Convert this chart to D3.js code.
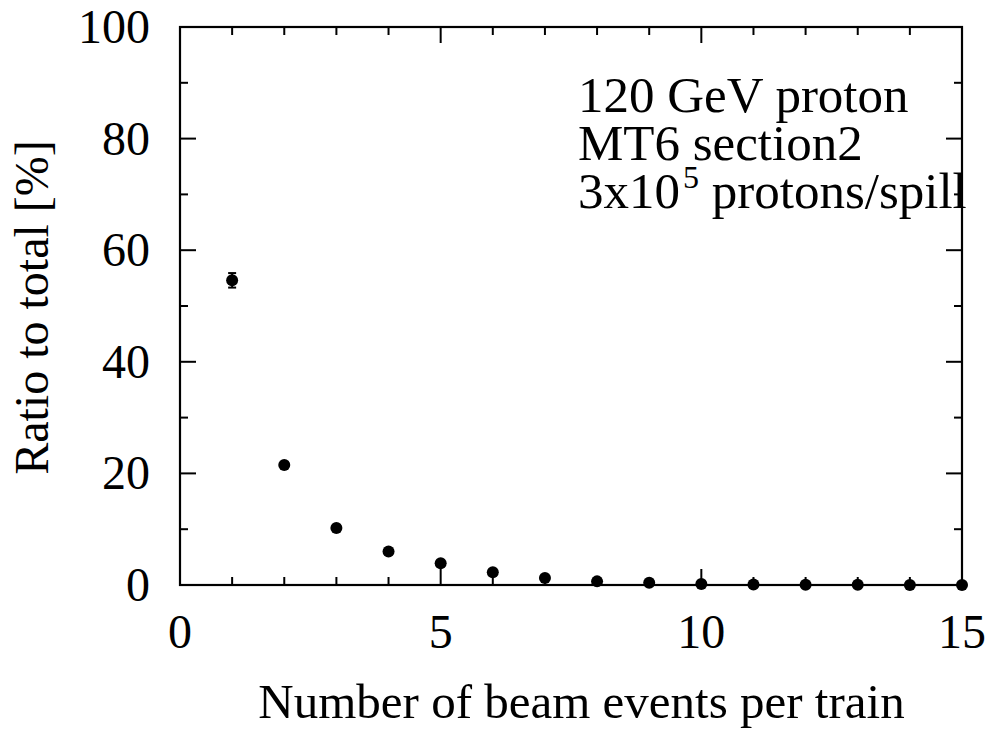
<!DOCTYPE html>
<html>
<head>
<meta charset="utf-8">
<script src="https://cdn.jsdelivr.net/npm/d3@7"></script>
<style>
  html, body { margin: 0; padding: 0; background: #fff; }
  svg { display: block; }
  text { font-family: "Times New Roman", "Liberation Serif", serif; fill: #000; }
</style>
</head>
<body>
<svg id="chart" width="991" height="746"></svg>
<script>
// Beam events per train and their share of the total
const nEvents = [1, 2, 3, 4, 5, 6, 7, 8, 9, 10, 11, 12, 13, 14, 15];
const ratio   = [54.6, 21.5, 10.2, 6.0, 3.9, 2.3, 1.25, 0.65, 0.4, 0.2, 0.1, 0.06, 0.04, 0.02, 0.01];
const ratioErr = [1.3, 0.5, 0.4, 0.3, 0.2, 0.2, 0.1, 0.1, 0.05, 0.05, 0.03, 0.02, 0.02, 0.01, 0.01];

const xTicks = [0, 5, 10, 15];
const yTicks = [0, 20, 40, 60, 80, 100];
const xTitle = "Number of beam events per train";
const yTitle = "Ratio to total [%]";
const noteLines = ["120 GeV proton", "MT6 section2"];
const spillBase = "3x10", spillExp = "5", spillTail = " protons/spill";

const svg = d3.select("#chart");
const plotL = 180, plotR = 962, plotT = 27, plotB = 585;

const x = d3.scaleLinear().domain([0, 15]).range([plotL, plotR]);
const y = d3.scaleLinear().domain([0, 100]).range([plotB, plotT]);

const g = svg.append("g");

// Inward-pointing ticks on all four sides: majors labelled, minors in between
const majorLen = 16, minorLen = 8;
const xMinor = d3.range(0, 16, 1);
const yMinor = d3.range(0, 101, 10);

function tickLines(values, isMajor, orient) {
  values.forEach(v => {
    const len = isMajor(v) ? majorLen : minorLen;
    let x1, y1, x2, y2;
    if (orient === "bottom") { x1 = x2 = x(v); y1 = plotB; y2 = plotB - len; }
    if (orient === "top")    { x1 = x2 = x(v); y1 = plotT; y2 = plotT + len; }
    if (orient === "left")   { y1 = y2 = y(v); x1 = plotL; x2 = plotL + len; }
    if (orient === "right")  { y1 = y2 = y(v); x1 = plotR; x2 = plotR - len; }
    g.append("line").attr("x1", x1).attr("y1", y1).attr("x2", x2).attr("y2", y2)
      .attr("stroke", "#000").attr("stroke-width", 2);
  });
}
const xMaj = v => v % 5 === 0, yMaj = v => v % 20 === 0;
tickLines(xMinor, xMaj, "bottom");
tickLines(xMinor, xMaj, "top");
tickLines(yMinor, yMaj, "left");
tickLines(yMinor, yMaj, "right");

// Frame
g.append("rect").attr("x", plotL).attr("y", plotT)
  .attr("width", plotR - plotL).attr("height", plotB - plotT)
  .attr("fill", "none").attr("stroke", "#000").attr("stroke-width", 2.2);

// Tick labels
g.selectAll(".xl").data(xTicks).join("text")
  .attr("x", d => x(d)).attr("y", 648)
  .attr("text-anchor", "middle").attr("font-size", 48)
  .text(d => d);
g.selectAll(".yl").data(yTicks).join("text")
  .attr("x", 150).attr("y", d => y(d) + 16)
  .attr("text-anchor", "end").attr("font-size", 48)
  .text(d => d);

// Axis titles
g.append("text").attr("x", (258 + 905) / 2).attr("y", 718)
  .attr("text-anchor", "middle").attr("font-size", 49).text(xTitle);
g.append("text")
  .attr("transform", `translate(48, ${(145 + 470) / 2}) rotate(-90)`)
  .attr("text-anchor", "middle").attr("font-size", 48).text(yTitle);

// Error bars
const capHalf = 4;
nEvents.forEach((n, i) => {
  const cx = x(n), y0 = y(ratio[i] - ratioErr[i]), y1 = y(ratio[i] + ratioErr[i]);
  g.append("line").attr("x1", cx).attr("x2", cx).attr("y1", y0).attr("y2", y1)
    .attr("stroke", "#000").attr("stroke-width", 2);
  [y0, y1].forEach(yy => g.append("line")
    .attr("x1", cx - capHalf).attr("x2", cx + capHalf).attr("y1", yy).attr("y2", yy)
    .attr("stroke", "#000").attr("stroke-width", 2));
});

// Data points
g.selectAll(".pt").data(nEvents).join("circle")
  .attr("cx", d => x(d)).attr("cy", (d, i) => y(ratio[i]))
  .attr("r", 6).attr("fill", "#000");

// Beam condition note: one text block, three lines
const noteX = 578, lineGap = 48;
const note = g.append("text").attr("x", noteX).attr("y", 112).attr("font-size", 51);
noteLines.forEach((t, i) => {
  note.append("tspan").attr("x", noteX).attr("dy", i === 0 ? 0 : lineGap).text(t);
});
note.append("tspan").attr("x", noteX).attr("dy", lineGap).text(spillBase);
note.append("tspan").attr("font-size", 32).attr("dx", 3).attr("dy", -20).text(spillExp);
note.append("tspan").attr("dy", 20).text(spillTail);
</script>
</body>
</html>
